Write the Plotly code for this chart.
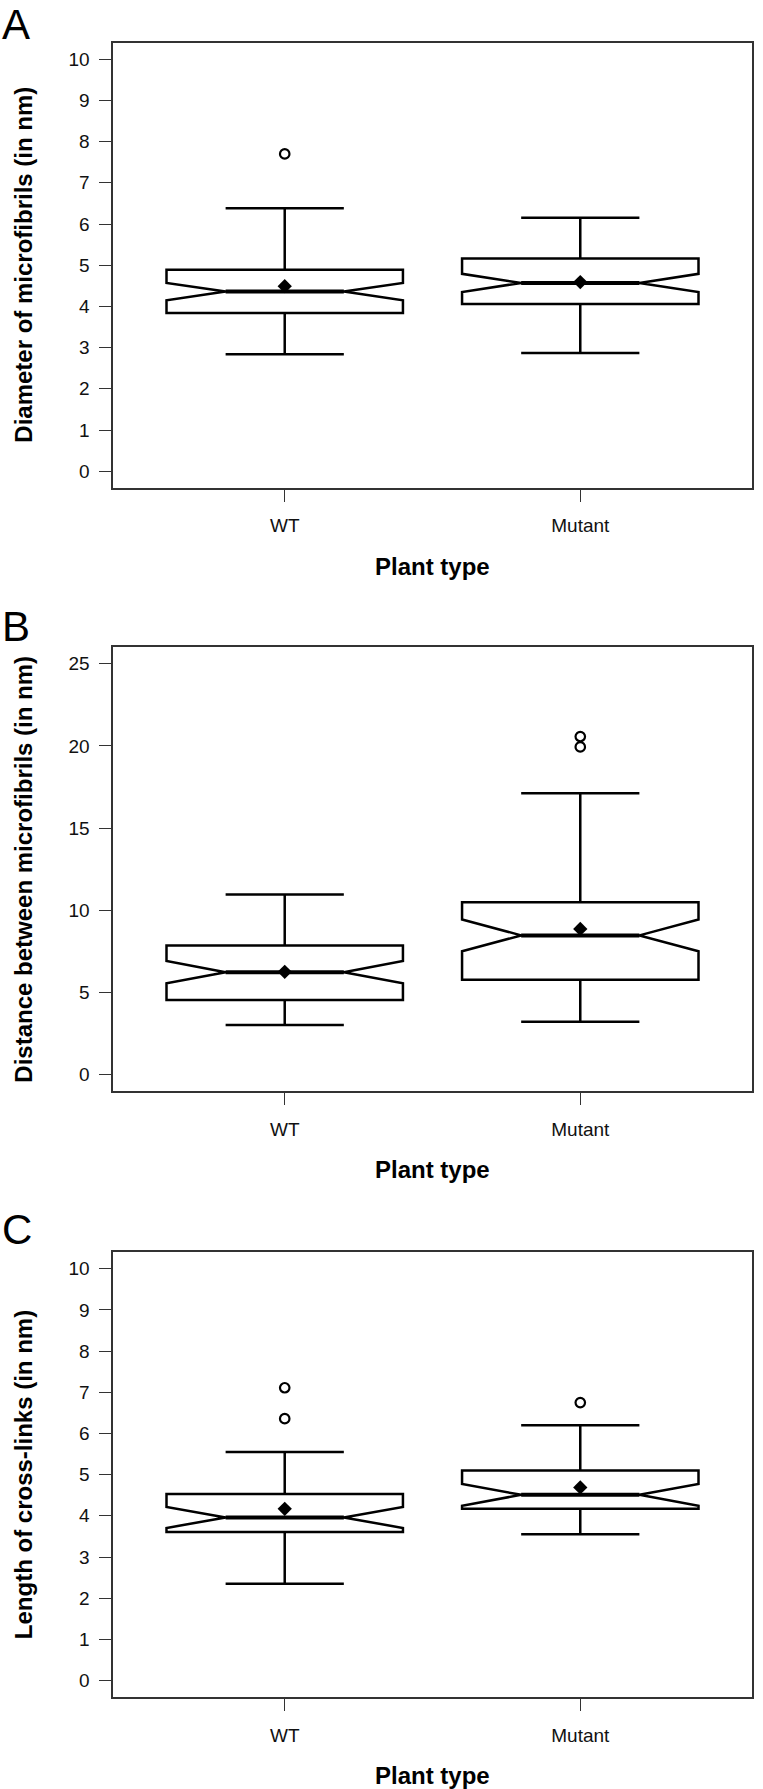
import plotly.graph_objects as go

# ---------------- data ----------------
groups = ["WT", "Mutant"]
positions = [1, 2]

# Panel A: diameter of microfibrils
a_lower = [2.84, 2.87]
a_q1 = [3.84, 4.06]
a_median = [4.36, 4.57]
a_q3 = [4.89, 5.16]
a_upper = [6.38, 6.15]
a_notch = [0.21, 0.22]
a_mean = [4.49, 4.59]
a_outliers = [[7.70], []]

# Panel B: distance between microfibrils
b_lower = [3.02, 3.21]
b_q1 = [4.53, 5.77]
b_median = [6.23, 8.47]
b_q3 = [7.86, 10.49]
b_upper = [10.95, 17.12]
b_notch = [0.68, 0.97]
b_mean = [6.25, 8.86]
b_outliers = [[], [19.94, 20.57]]

# Panel C: length of cross-links
c_lower = [2.35, 3.55]
c_q1 = [3.61, 4.17]
c_median = [3.96, 4.51]
c_q3 = [4.53, 5.10]
c_upper = [5.55, 6.20]
c_notch = [0.255, 0.265]
c_mean = [4.17, 4.69]
c_outliers = [[6.36, 7.11], [6.75]]

a_ticks = list(range(0, 11))
b_ticks = [0, 5, 10, 15, 20, 25]
c_ticks = list(range(0, 11))

titles_y = ["Diameter of microfibrils (in nm)",
            "Distance between microfibrils (in nm)",
            "Length of cross-links (in nm)"]
panel_letters = ["A", "B", "C"]
x_title = "Plant type"

# ---------------- layout geometry ----------------
W, H = 763, 1789
x_dom = [113.3 / W, 751.7 / W]
panel_px = [(42.7, 487.7), (647.3, 1091.0), (1252.3, 1697.0)]
letter_top_px = [0.0, 602.0, 1205.0]
y_ranges = [[-0.4, 10.4], [-1.0, 26.0], [-0.4, 10.4]]

FONT = "Liberation Sans, Arial, Helvetica, sans-serif"
FRAME = "#333333"
BOXW = 0.8

panels = [
    (a_lower, a_q1, a_median, a_q3, a_upper, a_notch, a_mean, a_outliers, a_ticks),
    (b_lower, b_q1, b_median, b_q3, b_upper, b_notch, b_mean, b_outliers, b_ticks),
    (c_lower, c_q1, c_median, c_q3, c_upper, c_notch, c_mean, c_outliers, c_ticks),
]

fig = go.Figure()
annotations = []
layout_axes = {}

for k, (lo, q1, med, q3, up, notch, mean, outs, ticks) in enumerate(panels):
    idx = "" if k == 0 else str(k + 1)
    xa, ya = "x" + idx, "y" + idx
    top_px, bot_px = panel_px[k]
    y_dom = [1 - bot_px / H, 1 - top_px / H]

    fig.add_trace(go.Box(
        x=positions, q1=q1, median=med, q3=q3,
        lowerfence=lo, upperfence=up, notchspan=notch,
        notched=True, notchwidth=0.25, width=BOXW, whiskerwidth=0.5,
        boxpoints=False, fillcolor="white",
        line=dict(color="black", width=2.5),
        xaxis=xa, yaxis=ya, showlegend=False, hoverinfo="skip"))

    # thick median segments (R draws the median with a heavier line)
    for p, m in zip(positions, med):
        half = BOXW / 2 * 0.5
        fig.add_trace(go.Scatter(
            x=[p - half, p + half], y=[m, m], mode="lines",
            line=dict(color="black", width=4),
            xaxis=xa, yaxis=ya, showlegend=False, hoverinfo="skip"))

    # means as filled diamonds
    fig.add_trace(go.Scatter(
        x=positions, y=mean, mode="markers",
        marker=dict(symbol="diamond", size=11, color="black"),
        xaxis=xa, yaxis=ya, showlegend=False, hoverinfo="skip"))

    # outliers as open circles
    ox, oy = [], []
    for p, vals in zip(positions, outs):
        for v in vals:
            ox.append(p)
            oy.append(v)
    if ox:
        fig.add_trace(go.Scatter(
            x=ox, y=oy, mode="markers",
            marker=dict(symbol="circle-open", size=9.5, color="black",
                        line=dict(width=2.2, color="black")),
            xaxis=xa, yaxis=ya, showlegend=False, hoverinfo="skip"))

    layout_axes["xaxis" + idx] = dict(
        domain=x_dom, anchor=ya, range=[0.42, 2.58],
        tickmode="array", tickvals=positions, ticktext=groups,
        ticks="outside", ticklen=12, tickwidth=1.3, tickcolor=FRAME,
        ticklabelstandoff=8,
        showline=True, linecolor=FRAME, linewidth=1.6, mirror=True,
        showgrid=False, zeroline=False, automargin=False,
        tickfont=dict(family=FONT, size=19, color="#111111"))
    layout_axes["yaxis" + idx] = dict(
        domain=y_dom, anchor=xa, range=y_ranges[k],
        tickmode="array", tickvals=ticks, ticktext=[str(t) for t in ticks],
        ticks="outside", ticklen=13, tickwidth=1.3, tickcolor=FRAME,
        ticklabelstandoff=5,
        showline=True, linecolor=FRAME, linewidth=1.6, mirror=True,
        showgrid=False, zeroline=False, automargin=False,
        tickfont=dict(family=FONT, size=19, color="#111111"))

    y_mid = 1 - (top_px + bot_px) / 2 / H
    annotations.append(dict(
        text="<b>" + titles_y[k] + "</b>", textangle=-90,
        xref="paper", yref="paper",
        x=23.5 / W, y=y_mid, xanchor="center", yanchor="middle",
        showarrow=False, font=dict(family=FONT, size=24, color="black")))
    annotations.append(dict(
        text="<b>" + x_title + "</b>", xref="paper", yref="paper",
        x=(x_dom[0] + x_dom[1]) / 2, y=1 - (bot_px + 78.5) / H,
        xanchor="center", yanchor="middle",
        showarrow=False, font=dict(family=FONT, size=24, color="black")))
    annotations.append(dict(
        text=panel_letters[k], xref="paper", yref="paper",
        x=1 / W, y=1 - letter_top_px[k] / H, xanchor="left", yanchor="top",
        borderpad=0,
        showarrow=False, font=dict(family=FONT, size=42, color="black")))

fig.update_layout(
    width=W, height=H, margin=dict(l=0, r=0, t=0, b=0),
    paper_bgcolor="white", plot_bgcolor="white",
    annotations=annotations, **layout_axes)

fig.write_html("out.html",
               config={"displayModeBar": False},
               post_script="document.body.style.margin='0';"
                           "document.body.style.overflow='hidden';")
